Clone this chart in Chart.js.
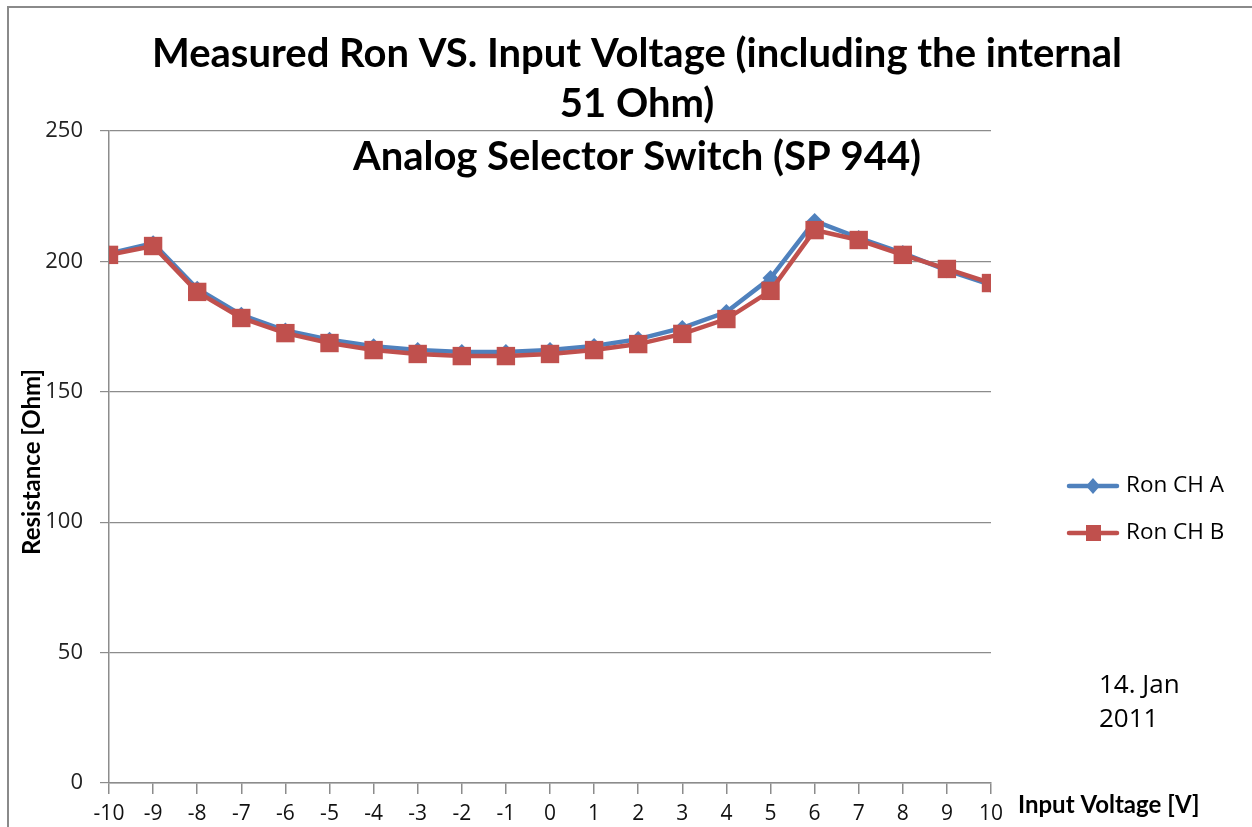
<!DOCTYPE html>
<html>
<head>
<meta charset="utf-8">
<script src="https://cdn.jsdelivr.net/npm/chart.js@4.4.1/dist/chart.umd.min.js"></script>
<style>
  html, body { margin: 0; padding: 0; background: #fff; }
  #wrap { width: 1252px; height: 827px; position: relative; }
</style>
</head>
<body>
<div id="wrap"><canvas id="chart" width="1252" height="827"></canvas></div>
<script>
const voltages = [-10, -9, -8, -7, -6, -5, -4, -3, -2, -1, 0, 1, 2, 3, 4, 5, 6, 7, 8, 9, 10];
const ronA = [203, 207, 189.5, 179.5, 173.5, 170, 167.5, 166, 165.3, 165.3, 166, 167.6, 170.2, 174.5, 180.6, 193.6, 215.5, 209, 203.2, 196.6, 191];
const ronB = [202.5, 205.9, 188.3, 178.3, 172.5, 168.7, 166, 164.5, 163.7, 163.7, 164.5, 166, 168.3, 172.2, 177.9, 188.7, 212, 208.2, 202.5, 197.1, 191.7];
const yTicks = [0, 50, 100, 150, 200, 250];

const titleLines = [
  "Measured Ron VS. Input Voltage (including the internal",
  "51 Ohm)",
  "Analog Selector Switch (SP 944)"
];
const seriesNames = ["Ron CH A", "Ron CH B"];
const dateLines = ["14. Jan", "2011"];

const BLUE = "#4F81BD";
const RED = "#C0504D";
const GRID = "#8c8c8c";

const toPoints = (vals) => vals.map((v, i) => ({ x: voltages[i], y: v }));

// frame, titles, axis titles, legend and date note
const decorations = {
  id: "decorations",
  beforeDraw(chart) {
    const ctx = chart.ctx;
    ctx.save();
    ctx.fillStyle = "#fff";
    ctx.fillRect(0, 0, chart.width, chart.height);
    ctx.strokeStyle = "#8a8a8a";
    ctx.lineWidth = 2;
    ctx.beginPath();
    ctx.moveTo(8, chart.height);
    ctx.lineTo(8, 7);
    ctx.lineTo(chart.width, 7);
    ctx.stroke();
    ctx.restore();
  },
  afterDraw(chart) {
    const ctx = chart.ctx;
    ctx.save();
    ctx.fillStyle = "#000";
    ctx.textAlign = "center";
    ctx.textBaseline = "middle";
    ctx.font = "bold 40px Lato, 'Open Sans', sans-serif";
    ctx.fillText(titleLines[0], 637, 54);
    ctx.fillText(titleLines[1], 637, 104);
    ctx.fillText(titleLines[2], 637, 157);

    // axis titles
    ctx.font = "bold 24px Lato, 'Open Sans', sans-serif";
    ctx.textAlign = "left";
    ctx.fillText("Input Voltage [V]", 1018, 805);
    ctx.save();
    ctx.translate(32, 462);
    ctx.rotate(-Math.PI / 2);
    ctx.textAlign = "center";
    ctx.fillText("Resistance [Ohm]", 0, 0);
    ctx.restore();

    // legend
    const colors = [BLUE, RED];
    const rows = [486, 533];
    ctx.font = "22.5px 'Open Sans', sans-serif";
    ctx.textAlign = "left";
    rows.forEach((y, i) => {
      ctx.strokeStyle = colors[i];
      ctx.fillStyle = colors[i];
      ctx.lineWidth = 4.5;
      ctx.lineCap = "round";
      ctx.beginPath();
      ctx.moveTo(1069, y);
      ctx.lineTo(1117, y);
      ctx.stroke();
      ctx.beginPath();
      if (i === 0) {
        ctx.moveTo(1093, y - 8);
        ctx.lineTo(1100, y);
        ctx.lineTo(1093, y + 8);
        ctx.lineTo(1086, y);
        ctx.closePath();
      } else {
        ctx.rect(1086, y - 8, 15, 16);
      }
      ctx.fill();
      ctx.fillStyle = "#000";
      ctx.fillText(seriesNames[i], 1126, y);
    });

    // date note
    ctx.font = "26px 'Open Sans', sans-serif";
    ctx.fillText(dateLines[0], 1099, 686);
    ctx.fillText(dateLines[1], 1099, 720);
    ctx.restore();
  }
};

new Chart(document.getElementById("chart"), {
  type: "line",
  data: {
    datasets: [
      {
        label: seriesNames[0],
        data: toPoints(ronA),
        borderColor: BLUE,
        backgroundColor: BLUE,
        borderWidth: 4.5,
        pointStyle: "rectRot",
        pointRadius: 8,
        pointBorderWidth: 0,
        order: 1
      },
      {
        label: seriesNames[1],
        data: toPoints(ronB),
        borderColor: RED,
        backgroundColor: RED,
        borderWidth: 4.5,
        pointStyle: "rect",
        pointRadius: 13,
        pointBorderWidth: 0,
        order: 0
      }
    ]
  },
  options: {
    responsive: false,
    animation: false,
    events: [],
    layout: { padding: { left: 0, right: 261, top: 131, bottom: 0 } },
    plugins: {
      legend: { display: false },
      title: { display: false },
      tooltip: { enabled: false }
    },
    scales: {
      x: {
        type: "linear",
        min: -10,
        max: 10,
        afterFit: (s) => { s.height = 44; },
        afterBuildTicks: (s) => { s.ticks = voltages.map((v) => ({ value: v })); },
        border: { color: GRID, width: 1.5 },
        grid: { drawOnChartArea: false, color: GRID, tickLength: 11, lineWidth: 1.5 },
        ticks: {
          color: "#111",
          maxRotation: 0,
          autoSkip: false,
          padding: 7,
          font: { family: "'Liberation Sans Narrow', 'Open Sans', sans-serif", size: 21 }
        }
      },
      y: {
        min: 0,
        max: 250,
        afterFit: (s) => { s.width = 109; },
        afterBuildTicks: (s) => { s.ticks = yTicks.map((v) => ({ value: v })); },
        border: { color: GRID, width: 1.5 },
        grid: { color: GRID, tickLength: 9, lineWidth: 1.2 },
        ticks: {
          color: "#222",
          padding: 17,
          font: { family: "'Open Sans', sans-serif", size: 22 }
        }
      }
    }
  },
  plugins: [decorations]
});
</script>
</body>
</html>
